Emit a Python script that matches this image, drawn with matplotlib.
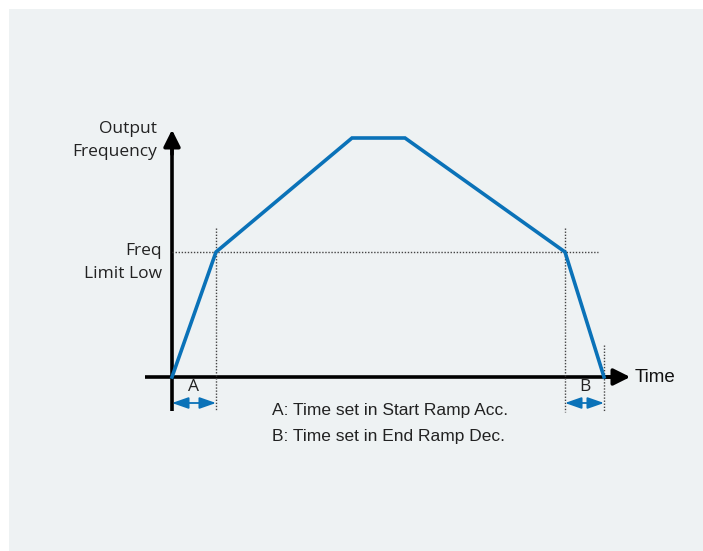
import matplotlib.pyplot as plt
from matplotlib.patches import Rectangle

# output frequency profile (time, frequency) in arbitrary units
time = [0, 44, 180, 233, 393, 432]
freq = [0, 125, 239, 239, 125, 0]
freq_limit_low = 125
ramp_a = (0, 44)
ramp_b = (393, 432)
notes = ["A: Time set in Start Ramp Acc.", "B: Time set in End Ramp Dec."]

blue = "#0a72b8"
bg = "#eef2f3"

fig = plt.figure(figsize=(7.03, 5.51), dpi=100, facecolor="white")
fig.patches.append(Rectangle((9 / 703, 0), 1, (551 - 9) / 551, transform=fig.transFigure,
                             facecolor=bg, edgecolor="none", zorder=-10))
ax = fig.add_axes([0, 0, 1, 1])
ax.set_zorder(5)
ax.set_xlim(-172, 531)
ax.set_ylim(-174, 377)
ax.axis("off")
ax.patch.set_alpha(0)

# axes arrows
ax.plot([0, 0], [-34, 236], color="black", lw=2.6, solid_capstyle="butt")
ax.annotate("", xy=(0, 250), xytext=(0, 220),
            arrowprops=dict(arrowstyle="-|>,head_length=1.0,head_width=0.5", color="black", lw=2.6))
ax.plot([-27, 446], [0, 0], color="black", lw=2.6, solid_capstyle="butt")
ax.annotate("", xy=(461, 0), xytext=(430, 0),
            arrowprops=dict(arrowstyle="-|>,head_length=1.0,head_width=0.5", color="black", lw=2.6))

# dotted guides
dot = dict(color="#444444", lw=1, ls=(0, (1, 1.2)))
ax.plot([0, 426], [freq_limit_low, freq_limit_low], **dot)
ax.plot([ramp_a[1], ramp_a[1]], [149, -34], **dot)
ax.plot([ramp_b[0], ramp_b[0]], [149, -35], **dot)
ax.plot([ramp_b[1], ramp_b[1]], [32, -35], **dot)

# frequency curve
ax.plot(time, freq, color=blue, lw=2.6, solid_joinstyle="miter", zorder=5)

# ramp markers
for (t0, t1), lab in [(ramp_a, "A"), (ramp_b, "B")]:
    ax.annotate("", xy=(t1, -26), xytext=(t0, -26),
                arrowprops=dict(arrowstyle="<|-|>,head_length=1.0,head_width=0.35",
                                color=blue, lw=1.3, shrinkA=0, shrinkB=0))
    ax.text((t0 + t1) / 2, -10, lab, ha="center", va="center", fontsize=12.5,
            family="Open Sans", color="#222222")

ax.text(-15, 248, "Output", ha="right", va="center", fontsize=12.5, family="Open Sans", color="#222222")
ax.text(-15, 225, "Frequency", ha="right", va="center", fontsize=12.5, family="Open Sans", color="#222222")
ax.text(-10, 126, "Freq", ha="right", va="center", fontsize=12.5, family="Open Sans", color="#222222")
ax.text(-10, 103, "Limit Low", ha="right", va="center", fontsize=12.5, family="Open Sans", color="#222222")
ax.text(463, 0, "Time", ha="left", va="center", fontsize=13.5, family="Liberation Sans", color="#111111")

ax.text(100, -34, notes[0], ha="left", va="center", fontsize=12.5, family="Liberation Sans", color="#222222")
ax.text(100, -59, notes[1], ha="left", va="center", fontsize=12.5, family="Liberation Sans", color="#222222")

fig.savefig("out.png", dpi=100, facecolor="white")
